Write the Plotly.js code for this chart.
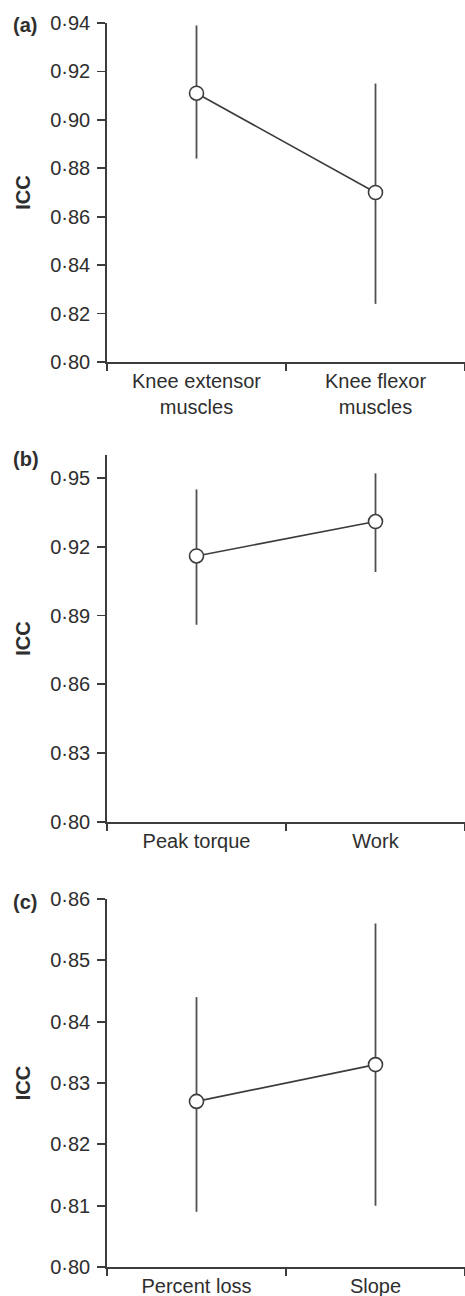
<!DOCTYPE html>
<html>
<head>
<meta charset="utf-8">
<script src="https://cdn.plot.ly/plotly-3.0.1.min.js"></script>
<style>html,body{margin:0;padding:0;background:#fff;}#chart{width:465px;height:1296px;}</style>
</head>
<body>
<div id="chart"></div>
<script>
// Panel (a)
var catsA = ['Knee extensor<br>muscles', 'Knee flexor<br>muscles'];
var iccA = [0.911, 0.870];
var upperA = [0.939, 0.915];
var lowerA = [0.884, 0.824];
var tickValsA = [0.80, 0.82, 0.84, 0.86, 0.88, 0.90, 0.92, 0.94];
var tickTextA = ['0·80', '0·82', '0·84', '0·86', '0·88', '0·90', '0·92', '0·94'];

// Panel (b)
var catsB = ['Peak torque', 'Work'];
var iccB = [0.916, 0.931];
var upperB = [0.945, 0.952];
var lowerB = [0.886, 0.909];
var tickValsB = [0.80, 0.83, 0.86, 0.89, 0.92, 0.95];
var tickTextB = ['0·80', '0·83', '0·86', '0·89', '0·92', '0·95'];

// Panel (c)
var catsC = ['Percent loss', 'Slope'];
var iccC = [0.827, 0.833];
var upperC = [0.844, 0.856];
var lowerC = [0.809, 0.810];
var tickValsC = [0.80, 0.81, 0.82, 0.83, 0.84, 0.85, 0.86];
var tickTextC = ['0·80', '0·81', '0·82', '0·83', '0·84', '0·85', '0·86'];

var panelLabels = ['(a)', '(b)', '(c)'];

var FONT = 'Arial, "Liberation Sans", sans-serif';
var TXT = '#2e2e2e';
var LINE = '#3c3c3c';
var FS = 20;

function diff(a, b) { return a.map(function (v, i) { return v - b[i]; }); }

function trace(cats, icc, up, lo, xa, ya) {
  return {
    type: 'scatter', mode: 'lines+markers',
    x: cats, y: icc, xaxis: xa, yaxis: ya,
    line: {color: LINE, width: 1.6},
    marker: {symbol: 'circle', size: 14, color: '#fff', line: {color: LINE, width: 1.6}},
    error_y: {type: 'data', symmetric: false, array: diff(up, icc), arrayminus: diff(icc, lo),
              width: 0, thickness: 1.8, color: '#505050'},
    hoverinfo: 'none', showlegend: false, cliponaxis: false
  };
}

var data = [
  trace(catsA, iccA, upperA, lowerA, 'x', 'y'),
  trace(catsB, iccB, upperB, lowerB, 'x2', 'y2'),
  trace(catsC, iccC, upperC, lowerC, 'x3', 'y3')
];

function xax(anchor) {
  return {
    anchor: anchor, domain: [0, 1], type: 'category', range: [-0.5, 1.5],
    tickson: 'boundaries', ticks: 'outside', ticklen: 7, tickwidth: 1.8, tickcolor: LINE,
    showline: true, linecolor: LINE, linewidth: 1.8, showgrid: false, zeroline: false,
    tickfont: {family: FONT, size: FS, color: TXT}, automargin: false, fixedrange: true
  };
}
function yax(anchor, domain, range, vals, text) {
  return {
    anchor: anchor, domain: domain, range: range,
    tickmode: 'array', tickvals: vals, ticktext: text,
    ticks: 'outside', ticklen: 8, tickwidth: 1.8, tickcolor: LINE, ticklabelstandoff: 3,
    showline: true, linecolor: LINE, linewidth: 1.8, showgrid: false, zeroline: false,
    tickfont: {family: FONT, size: FS, color: TXT}, automargin: false, fixedrange: true,
    title: {text: '<b>ICC</b>', font: {family: FONT, size: FS, color: TXT}, standoff: 14}
  };
}

var H = 1296;
function dom(topPx, botPx) { return [1 - botPx / H, 1 - topPx / H]; }

function panelLabel(txt, yPx) {
  return {text: '<b>' + txt + '</b>', xref: 'paper', yref: 'paper', x: (11 - 107) / 358, y: 1 - yPx / H,
          xanchor: 'left', yanchor: 'middle', showarrow: false, font: {family: FONT, size: FS, color: TXT}};
}

var layout = {
  width: 465, height: H,
  margin: {l: 107, r: 0, t: 0, b: 0},
  paper_bgcolor: '#fff', plot_bgcolor: '#fff',
  font: {family: FONT, color: TXT},
  xaxis: xax('y'),
  xaxis2: xax('y2'),
  xaxis3: xax('y3'),
  yaxis: yax('x', dom(23, 362), [0.80, 0.94], tickValsA, tickTextA),
  yaxis2: yax('x2', dom(455, 822), [0.80, 0.96], tickValsB, tickTextB),
  yaxis3: yax('x3', dom(899, 1267), [0.80, 0.86], tickValsC, tickTextC),
  annotations: [
    panelLabel(panelLabels[0], 25),
    panelLabel(panelLabels[1], 459),
    panelLabel(panelLabels[2], 902)
  ]
};

Plotly.newPlot('chart', data, layout, {staticPlot: true, displayModeBar: false});
</script>
</body>
</html>
